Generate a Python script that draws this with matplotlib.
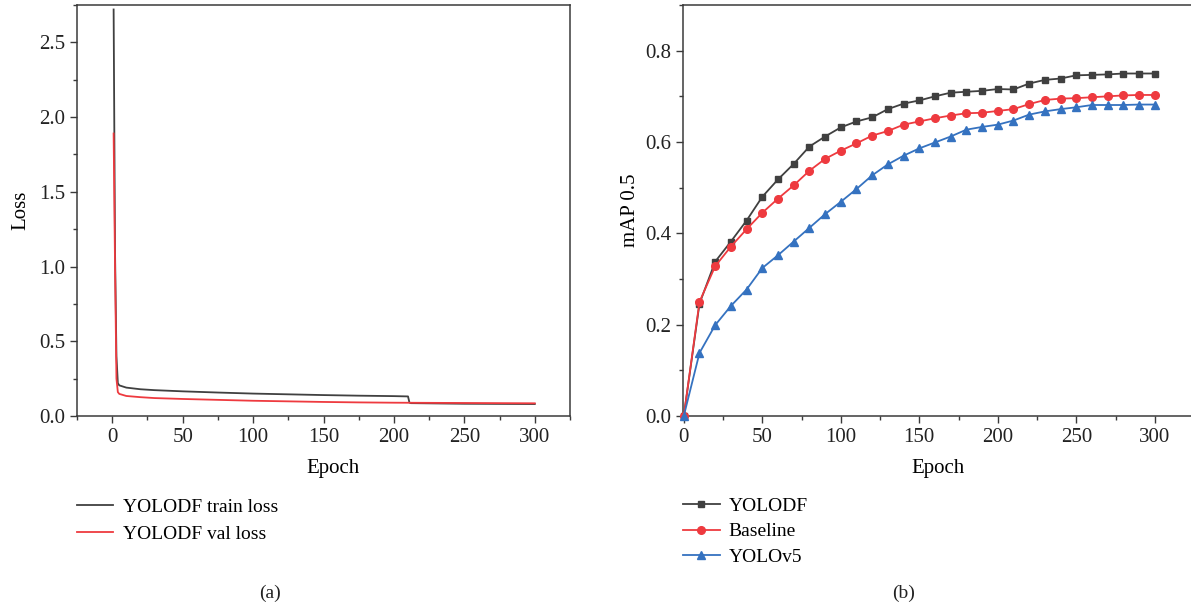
import matplotlib
matplotlib.use("Agg")
import matplotlib.pyplot as plt
from matplotlib.ticker import MultipleLocator
import numpy as np

# ---------------- data ----------------
train_epochs = [1, 2, 3, 4, 5, 10, 20, 30, 50, 75, 100, 125, 150, 175, 200, 210, 211, 212, 250, 300]
train_loss = [2.72, 1.10, 0.40, 0.22, 0.205, 0.19, 0.179, 0.173, 0.165, 0.157, 0.150, 0.145, 0.140, 0.136, 0.133, 0.131, 0.090, 0.086, 0.082, 0.080]

val_epochs = [1, 2, 3, 4, 5, 10, 20, 30, 50, 75, 100, 125, 150, 175, 200, 250, 300]
val_loss = [1.89, 1.00, 0.25, 0.16, 0.148, 0.134, 0.126, 0.120, 0.114, 0.108, 0.102, 0.098, 0.094, 0.091, 0.089, 0.087, 0.085]

map_epochs = list(range(0, 301, 10))
map_yolodf = [0.0, 0.246, 0.338, 0.382, 0.428, 0.480, 0.518, 0.552, 0.590, 0.612, 0.632,
              0.645, 0.654, 0.672, 0.684, 0.691, 0.700, 0.708, 0.710, 0.712, 0.716,
              0.715, 0.728, 0.736, 0.739, 0.746, 0.747, 0.748, 0.750, 0.750, 0.750]
map_baseline = [0.0, 0.250, 0.328, 0.371, 0.409, 0.445, 0.476, 0.505, 0.537, 0.563, 0.581,
                0.597, 0.614, 0.624, 0.638, 0.645, 0.652, 0.658, 0.663, 0.664, 0.668,
                0.672, 0.683, 0.692, 0.695, 0.696, 0.698, 0.700, 0.702, 0.703, 0.703]
map_yolov5 = [0.0, 0.138, 0.199, 0.241, 0.277, 0.324, 0.352, 0.382, 0.412, 0.442, 0.469,
              0.497, 0.527, 0.551, 0.570, 0.586, 0.599, 0.612, 0.627, 0.633, 0.638,
              0.647, 0.660, 0.667, 0.672, 0.676, 0.681, 0.681, 0.681, 0.682, 0.682]

# ---------------- style ----------------
plt.rcParams['font.family'] = ['Liberation Serif', 'DejaVu Serif']
FS = 15
LFS = 14
SPINE = '#3a3a3a'
BLACK = '#404040'
RED = '#ee3a3f'
BLUE = '#3572c0'

W, H = 1191, 606
fig = plt.figure(figsize=(W / 100, H / 100), dpi=100)


def px_axes(x0, y0, x1, y1):
    return fig.add_axes([x0 / W, 1 - y1 / H, (x1 - x0) / W, (y1 - y0) / H])


def style(ax):
    for s in ax.spines.values():
        s.set_color(SPINE)
        s.set_linewidth(1.1)
    ax.tick_params(which='both', direction='out', colors=SPINE, labelcolor='#222222',
                   labelsize=FS, top=False, right=False, width=1.0)
    ax.tick_params(which='major', length=5)
    ax.tick_params(which='minor', length=3)


# ---------------- (a) loss ----------------
ax1 = px_axes(77, 5, 570, 416)
ax1.plot(train_epochs, train_loss, color=BLACK, lw=1.3, label='YOLODF train loss')
ax1.plot(val_epochs, val_loss, color=RED, lw=1.3, label='YOLODF val loss')
ax1.set_xlim(-25, 325)
ax1.set_ylim(0, 2.75)
ax1.xaxis.set_major_locator(MultipleLocator(50))
ax1.xaxis.set_minor_locator(MultipleLocator(25))
ax1.yaxis.set_major_locator(MultipleLocator(0.5))
ax1.yaxis.set_minor_locator(MultipleLocator(0.25))
ax1.yaxis.set_major_formatter(matplotlib.ticker.FormatStrFormatter('%.1f'))
style(ax1)
ax1.set_xlabel('Epoch', fontsize=FS)
ax1.set_ylabel('Loss', fontsize=FS)
ax1.xaxis.set_label_coords(0.519, -0.105)
ax1.yaxis.set_label_coords(-0.094, 0.5)

# ---------------- (b) mAP ----------------
ax2 = px_axes(683, 5, 1194, 416)
ax2.plot(map_epochs, map_yolodf, color=BLACK, lw=1.3, marker='s', ms=5, label='YOLODF', clip_on=False, zorder=3)
ax2.plot(map_epochs, map_baseline, color=RED, lw=1.3, marker='o', ms=5.5, label='Baseline', clip_on=False, zorder=3)
ax2.plot(map_epochs, map_yolov5, color=BLUE, lw=1.3, marker='^', ms=5.5, label='YOLOv5', clip_on=False, zorder=3)
ax2.set_xlim(-0.5, 325)
ax2.set_ylim(0, 0.9)
ax2.xaxis.set_major_locator(MultipleLocator(50))
ax2.xaxis.set_minor_locator(MultipleLocator(25))
ax2.yaxis.set_major_locator(MultipleLocator(0.2))
ax2.yaxis.set_minor_locator(MultipleLocator(0.1))
ax2.yaxis.set_major_formatter(matplotlib.ticker.FormatStrFormatter('%.1f'))
style(ax2)
ax2.set_xlabel('Epoch', fontsize=FS)
ax2.set_ylabel('mAP 0.5', fontsize=FS)
ax2.xaxis.set_label_coords(0.5, -0.105)
ax2.yaxis.set_label_coords(-0.085, 0.5)

# ---------------- legends ----------------
h1, l1 = ax1.get_legend_handles_labels()
fig.legend(h1, l1, loc='upper left', bbox_to_anchor=(77 / W, 1 - 498 / H), frameon=False,
           fontsize=LFS, handlelength=1.85, handletextpad=0.5, labelspacing=0.5,
           borderpad=0, borderaxespad=0)
h2, l2 = ax2.get_legend_handles_labels()
fig.legend(h2, l2, loc='upper left', bbox_to_anchor=(683 / W, 1 - 497 / H), frameon=False,
           fontsize=LFS, handlelength=1.9, handletextpad=0.45, labelspacing=0.42,
           borderpad=0, borderaxespad=0)

fig.text(270 / W, 1 - 593 / H, '(a)', ha='center', va='center', fontsize=LFS, color='#222222')
fig.text(904 / W, 1 - 593 / H, '(b)', ha='center', va='center', fontsize=LFS, color='#222222')

fig.savefig('out.png', dpi=100)
